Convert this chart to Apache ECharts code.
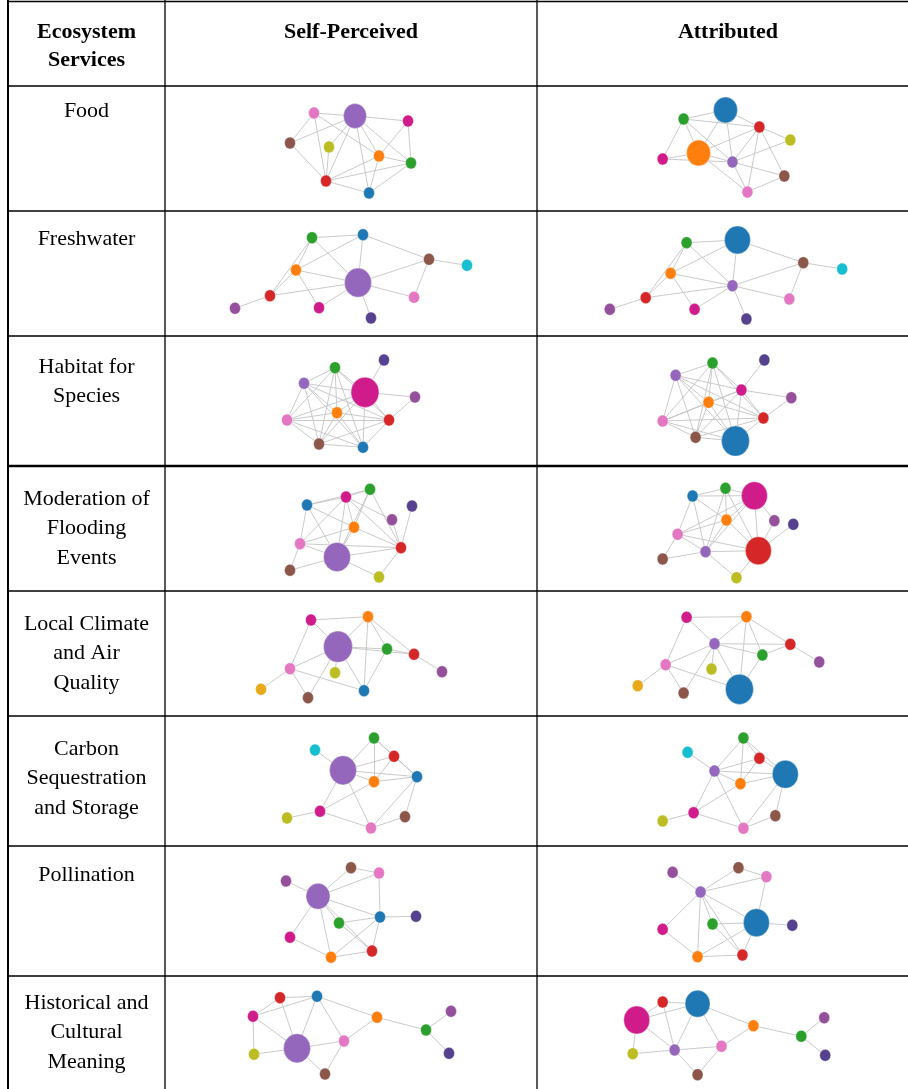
<!DOCTYPE html>
<html>
<head>
<meta charset="utf-8">
<script src="https://cdn.jsdelivr.net/npm/echarts@6/dist/echarts.min.js"></script>
<style>
html,body{margin:0;padding:0;background:#fff;}
#chart{width:908px;height:1089px;}
</style>
</head>
<body>
<div id="chart"></div>
<script>
// ---------- texts ----------
const headerTexts = ['Ecosystem\nServices', 'Self-Perceived', 'Attributed'];
const rowLabels = [
  'Food',
  'Freshwater',
  'Habitat for\nSpecies',
  'Moderation of\nFlooding\nEvents',
  'Local Climate\nand Air\nQuality',
  'Carbon\nSequestration\nand Storage',
  'Pollination',
  'Historical and\nCultural\nMeaning'
];

// ---------- networks: [node, x, y, weight] (weight = node diameter; default small) ----------
const foodSelf = [['purple',190,31,23],['pink',149,28],['magenta',243,36],['brown',125,58],['olive',164,62],['orange',214,71],['green',246,78],['red',161,96],['blue',204,108]];
const foodAttr = [['blue',189,25,24],['green',147,34],['red',223,42],['olive',254,55],['orange',162,68,24],['magenta',126,74],['purple',196,77],['brown',248,91],['pink',211,107]];
const foodLinks = [['purple','pink'],['purple','magenta'],['purple','brown'],['purple','red'],['purple','orange'],['purple','green'],['purple','blue'],['purple','olive'],['pink','brown'],['pink','red'],['pink','orange'],['magenta','green'],['magenta','orange'],['brown','red'],['olive','red'],['orange','red'],['orange','green'],['orange','blue'],['red','green'],['red','blue'],['green','blue']];

const freshSelf = [['green',147,27.7],['blue',198,24.7],['brown',264,49.3],['cyan',302,55.3],['orange',131,60],['purple',193,72.7,27],['red',105,85.7],['pink',249,87.3],['plum',70,98.3],['magenta',154,97.7],['indigo',206,108]];
const freshAttr = [['green',150,32.7],['blue',201,30,26],['brown',267,52.7],['cyan',306,59],['orange',134,63.3],['purple',196,75.7],['red',109,87.7],['pink',253,89],['plum',73,99.3],['magenta',158,99.3],['indigo',210,109]];
const freshLinks = [['green','blue'],['green','orange'],['green','red'],['green','purple'],['blue','orange'],['blue','purple'],['blue','brown'],['brown','cyan'],['brown','purple'],['brown','pink'],['orange','purple'],['orange','red'],['orange','magenta'],['red','purple'],['red','plum'],['purple','magenta'],['purple','pink'],['purple','indigo']];

const habSelf = [['indigo',219,25],['green',170,32.7],['purple',139,48.3],['magenta',200,57.3,28],['plum',250,62],['orange',172,77.7],['pink',122,85],['red',224,85],['brown',154,109],['blue',198,112.3]];
const habAttr = [['indigo',228,25],['green',176,28],['purple',139,40.3],['magenta',205,55],['plum',255,62.7],['orange',172,67.3],['red',227,83],['pink',126,86],['brown',159,102.3],['blue',199,106,28]];
const habLinks = [['indigo','magenta'],['green','purple'],['green','magenta'],['green','orange'],['green','red'],['green','brown'],['green','blue'],['green','pink'],['purple','magenta'],['purple','orange'],['purple','pink'],['purple','red'],['purple','blue'],['purple','brown'],['magenta','plum'],['magenta','orange'],['magenta','pink'],['magenta','red'],['magenta','blue'],['magenta','brown'],['plum','red'],['orange','pink'],['orange','red'],['orange','blue'],['orange','brown'],['pink','red'],['pink','brown'],['pink','blue'],['red','blue'],['red','brown'],['brown','blue']];

const floodSelf = [['green',205,24.3],['magenta',181,32],['blue',142,40],['indigo',247,41],['plum',227,54.7],['orange',189,62.3],['pink',135,78.7],['red',236,82.7],['purple',172,92,27],['brown',125,105.3],['olive',214,112]];
const floodAttr = [['blue',156,31],['green',189,23.3],['magenta',218,30.7,26],['orange',190,55],['plum',238,55.7],['indigo',257,59.3],['pink',141,69.3],['purple',169,86.7],['red',222,85.7,26],['brown',126,94],['olive',200,112.7]];
const floodLinks = [['green','magenta'],['green','blue'],['green','orange'],['green','red'],['green','purple'],['magenta','blue'],['magenta','orange'],['magenta','purple'],['magenta','red'],['magenta','plum'],['magenta','pink'],['blue','pink'],['blue','purple'],['blue','orange'],['indigo','red'],['plum','red'],['orange','red'],['orange','purple'],['orange','pink'],['pink','purple'],['pink','red'],['pink','brown'],['purple','red'],['purple','brown'],['purple','olive'],['red','olive']];

const climSelf = [['magenta',146,30],['orange',203,26.7],['purple',173,56.7,29],['green',222,59],['red',249,64.3],['pink',125,78.7],['olive',170,82.7],['plum',277,81.7],['gold',96,99.3],['blue',199,100.7],['brown',143,107.7]];
const climAttr = [['magenta',150,27.3],['orange',210,26.7],['purple',178,53.7],['red',254,54.3],['green',226,65],['pink',129,74.7],['olive',175,79],['plum',283,72],['gold',101,95.7],['brown',147,103],['blue',203,99.3,28]];
const climLinks = [['magenta','orange'],['magenta','purple'],['magenta','pink'],['orange','purple'],['orange','green'],['orange','red'],['orange','blue'],['purple','green'],['purple','red'],['purple','pink'],['purple','blue'],['purple','brown'],['purple','olive'],['green','red'],['green','blue'],['red','plum'],['pink','gold'],['pink','brown'],['pink','blue']];

const carbSelf = [['green',209,23],['cyan',150,35],['red',229,41.3],['purple',178,55.3,27],['blue',252,61.7],['orange',209,66.7],['magenta',155,96.3],['olive',122,103],['brown',240,101.7],['pink',206,113]];
const carbAttr = [['green',207,23],['cyan',151,37.3],['red',223,43.3],['purple',178,56],['blue',249,59.3,26],['orange',204,68.7],['magenta',157,97.7],['olive',126,106],['brown',239,100.7],['pink',207,113.3]];
const carbLinks = [['green','purple'],['green','red'],['green','orange'],['green','blue'],['cyan','purple'],['red','purple'],['red','orange'],['red','blue'],['purple','orange'],['purple','blue'],['purple','magenta'],['purple','pink'],['orange','blue'],['orange','magenta'],['blue','brown'],['blue','pink'],['magenta','olive'],['magenta','pink'],['pink','brown']];

const pollSelf = [['brown',186,22.7],['pink',214,28],['plum',121,36],['purple',153,51.3,24],['blue',215,72],['indigo',251,71.3],['green',174,78],['magenta',125,92.3],['red',207,106],['orange',166,112.3]];
const pollAttr = [['brown',202,22.7],['pink',230,31.7],['plum',136,27.3],['purple',164,47],['blue',220,77.7,26],['indigo',256,80.3],['green',176,79],['magenta',126,84.3],['red',206,110],['orange',161,111.7]];
const pollLinks = [['brown','pink'],['brown','purple'],['purple','pink'],['plum','purple'],['purple','magenta'],['purple','orange'],['purple','blue'],['purple','red'],['purple','green'],['pink','blue'],['blue','indigo'],['blue','green'],['blue','orange'],['blue','red'],['green','red'],['magenta','orange'],['orange','red']];

const histSelf = [['red',115,22.7],['blue',152,21.3],['magenta',88,41.3],['orange',212,42.3],['plum',286,36.3],['green',261,55],['pink',179,66],['purple',132,73.3,27],['olive',89,79.3],['indigo',284,78.3],['brown',160,99]];
const histAttr = [['red',126,27],['blue',161,28.7,25],['magenta',100,45,26],['orange',217,50.7],['plum',288,42.7],['green',265,61.3],['pink',185,71.3],['purple',138,75],['olive',96,78.7],['indigo',289,80.3],['brown',161,99.7]];
const histLinks = [['red','blue'],['red','magenta'],['red','purple'],['magenta','blue'],['magenta','olive'],['magenta','purple'],['blue','purple'],['blue','pink'],['blue','orange'],['orange','pink'],['orange','green'],['green','plum'],['green','indigo'],['purple','olive'],['purple','pink'],['purple','brown'],['pink','brown']];

const rows = [
  [foodSelf, foodAttr, foodLinks],
  [freshSelf, freshAttr, freshLinks],
  [habSelf, habAttr, habLinks],
  [floodSelf, floodAttr, floodLinks],
  [climSelf, climAttr, climLinks],
  [carbSelf, carbAttr, carbLinks],
  [pollSelf, pollAttr, pollLinks],
  [histSelf, histAttr, histLinks]
];

// ---------- styling / layout ----------
const palette = {
  blue:'#1f77b4', orange:'#ff7f0e', green:'#2ca02c', red:'#d62728', purple:'#9467bd',
  brown:'#8c564b', pink:'#e377c2', olive:'#bcbd22', cyan:'#17becf', magenta:'#d01c8b',
  indigo:'#56418f', plum:'#95509b', gold:'#e8aa1a'
};
const SMALL = 11;
const W = 908, H = 1089;
const colX = [8, 165, 537];
const rowTop = [85, 210, 335, 465, 590, 715, 845, 975];
const labelY = [111, 239, 367, 499, 624, 749, 875, 1003];
const cellW = 372;
const serif = '"Liberation Serif", "Times New Roman", serif';

const grids = [], xAxes = [], yAxes = [], series = [];
rows.forEach((row, r) => {
  const top = rowTop[r];
  const h = (r < rowTop.length - 1 ? rowTop[r + 1] : H) - top;
  [0, 1].forEach(c => {
    const idx = grids.length;
    grids.push({ left: colX[1 + c], top: top, width: cellW, height: h });
    xAxes.push({ type: 'value', gridIndex: idx, min: 0, max: cellW, show: false });
    yAxes.push({ type: 'value', gridIndex: idx, min: 0, max: h, inverse: true, show: false });
    const nodes = row[c];
    series.push({
      type: 'graph',
      coordinateSystem: 'cartesian2d',
      xAxisIndex: idx, yAxisIndex: idx,
      symbol: 'circle',
      silent: true,
      animation: false,
      data: nodes.map(n => {
        const d = n[3] || SMALL;
        return {
          name: n[0], value: [n[1], n[2]],
          symbolSize: [d, d * 1.08],
          itemStyle: { color: palette[n[0]], borderColor: 'rgba(255,255,255,0.6)', borderWidth: 0.6 }
        };
      }),
      links: row[2].map(l => ({ source: l[0], target: l[1] })),
      lineStyle: { color: '#c4c4c4', width: 1, opacity: 0.9, curveness: 0 },
      label: { show: false }
    });
  });
});

// table lines & texts
const graphic = [];
function hline(y, x1, x2, w) { graphic.push({ type: 'line', shape: { x1: x1, y1: y, x2: x2, y2: y }, style: { stroke: '#000', lineWidth: w }, z: 100 }); }
function vline(x, y1, y2, w) { graphic.push({ type: 'line', shape: { x1: x, y1: y1, x2: x, y2: y2 }, style: { stroke: '#000', lineWidth: w }, z: 100 }); }
hline(1.5, 7, W, 1.5);
rowTop.forEach((t, i) => hline(t + 1, 7, W, i === 3 ? 2.5 : 1.3));
vline(8, 0, H, 2);
vline(165, 0, H, 1.3);
vline(537, 0, H, 1.3);

const hfont = 'bold 22px ' + serif;
graphic.push({ type: 'text', x: 86.5, y: 46, style: { text: headerTexts[0], font: hfont, fill: '#000', textAlign: 'center', textVerticalAlign: 'middle', lineHeight: 28 }, z: 100 });
graphic.push({ type: 'text', x: 351, y: 32, style: { text: headerTexts[1], font: hfont, fill: '#000', textAlign: 'center', textVerticalAlign: 'middle' }, z: 100 });
graphic.push({ type: 'text', x: 728, y: 32, style: { text: headerTexts[2], font: hfont, fill: '#000', textAlign: 'center', textVerticalAlign: 'middle' }, z: 100 });
rowLabels.forEach((t, i) => {
  const n = t.split('\n').length;
  const lh = 29.5;
  graphic.push({ type: 'text', x: 86.5, y: labelY[i] + (n - 1) * lh / 2, style: { text: t, font: '22px ' + serif, fill: '#000', textAlign: 'center', textVerticalAlign: 'middle', lineHeight: lh }, z: 100 });
});

const chart = echarts.init(document.getElementById('chart'), null, { renderer: 'canvas' });
chart.setOption({
  backgroundColor: '#fff',
  animation: false,
  grid: grids, xAxis: xAxes, yAxis: yAxes,
  series: series,
  graphic: graphic
});
</script>
</body>
</html>
